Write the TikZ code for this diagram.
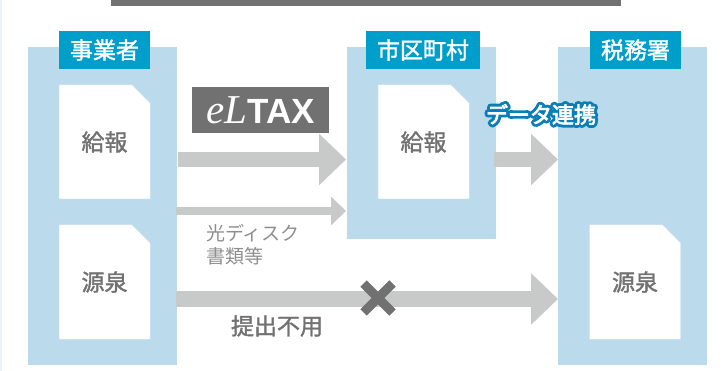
\documentclass[tikz,border=0pt]{standalone}
\usepackage{fontspec}
\usetikzlibrary{arrows.meta,shapes.misc}
\setmainfont{Noto Sans CJK JP}
\newfontfamily\semifont[FakeBold=1.5]{Noto Sans CJK JP}
\newfontfamily\whitefont[FakeBold=3]{Noto Sans CJK JP}
\newfontfamily\serifit{Liberation Serif}
\newfontfamily\sansbd{Liberation Sans}
\definecolor{panelblue}{HTML}{BBDAEC}
\definecolor{labelblue}{HTML}{009FCB}
\definecolor{arrowgray}{HTML}{C8CAC9}
\definecolor{darkgray}{HTML}{717171}
\definecolor{linkblue}{HTML}{0B7FB5}
\definecolor{stripblue}{HTML}{E8F4FB}
\definecolor{docedge}{HTML}{D8EAF5}
\definecolor{disctext}{HTML}{8E8E8E}
\newcommand{\fsz}[1]{\fontsize{#1}{#1}\selectfont}
\newcommand{\halotext}[1]{%
  \rlap{\special{pdf:code q 1 Tr 6.5 w 1 J 1 j 0.043 0.498 0.71 RG}#1\special{pdf:code Q}}%
  \textcolor{white}{\whitefont #1}}
\tikzset{
  panelbox/.style={fill=panelblue,inner sep=0pt,outer sep=0pt,anchor=north west},
  headbox/.style={fill=labelblue,text=white,inner sep=0pt,outer sep=0pt,minimum height=38pt,font=\semifont\fsz{23}},
  docbox/.style={chamfered rectangle,chamfered rectangle corners=north east,chamfered rectangle xsep=9pt,chamfered rectangle ysep=9pt,
    fill=white,draw=docedge,line width=.5pt,inner sep=0pt,outer sep=0pt,minimum width=91pt,minimum height=114pt,text=darkgray,font=\semifont\fsz{23}},
  bigarrow/.style={draw=arrowgray,line width=15pt,-{Triangle[length=27pt,width=50pt,fill=arrowgray]}},
  smallarrow/.style={draw=arrowgray,line width=8pt,-{Triangle[length=15pt,width=28pt,fill=arrowgray]}},
  crossline/.style={draw=darkgray,line width=9pt},
}
\begin{document}
\begin{tikzpicture}[x=1pt,y=-1pt]
\useasboundingbox (0,0) rectangle (728,371);
\fill[white] (0,0) rectangle (728,371);
\fill[stripblue] (0,0) rectangle (2,371);
\fill[darkgray] (111,0) rectangle (621,6);
% panels
\node[panelbox,minimum width=149pt,minimum height=318pt] (pa) at (28,47) {};
\node[panelbox,minimum width=149pt,minimum height=192pt] (pb) at (347,47) {};
\node[panelbox,minimum width=149pt,minimum height=318pt] (pc) at (558,47) {};
% headers
\node[headbox,minimum width=91pt] (ha) at (104.5,50) {事業者};
\node[headbox,minimum width=114pt] (hb) at (423,50) {市区町村};
\node[headbox,minimum width=91pt] (hc) at (635.5,50) {税務署};
% documents
\node[docbox] (d1) at (104.5,142) {給報};
\node[docbox] (d2) at (104.5,282) {源泉};
\node[docbox] (d3) at (423.5,142) {給報};
\node[docbox] (d4) at (635,282) {源泉};
% route endpoints
\coordinate (a1s) at (178,159.5);
\coordinate (a1e) at (346,159.5);
\coordinate (a2s) at (176,211);
\coordinate (a2e) at (346,211);
\coordinate (a3s) at (494,159.5);
\coordinate (a3e) at (558,159.5);
\coordinate (a4s) at (176,299);
\coordinate (a4e) at (558,299);
\draw[bigarrow] (a1s) -- (a1e);
\draw[smallarrow] (a2s) -- (a2e);
\draw[bigarrow] (a3s) -- (a3e);
\draw[bigarrow] (a4s) -- (a4e);
% cross
\coordinate (x1) at (363.5,283.5);
\coordinate (x2) at (392.5,312.5);
\coordinate (x3) at (392.5,283.5);
\coordinate (x4) at (363.5,312.5);
\draw[crossline] (x1) -- (x2);
\draw[crossline] (x3) -- (x4);
% labels
\node[fill=darkgray,text=white,inner sep=0pt,outer sep=0pt,minimum width=137pt,minimum height=46pt] (tax) at (260.5,110)
  {{\serifit\itshape\fsz{41}eL}{\sansbd\bfseries\fsz{35}TAX}};
\node[inner sep=0pt,font=\fsz{22}] (link) at (541,114.5) {\halotext{データ連携}};
\node[inner sep=0pt,anchor=west,text=disctext,align=left,font=\fontsize{19}{22.5}\selectfont] (disc) at (206,244.5)
  {光ディスク\\書類等};
\node[inner sep=0pt,text=darkgray,font=\semifont\fsz{23}] (nouse) at (277,326) {提出不用};
\end{tikzpicture}
\end{document}
